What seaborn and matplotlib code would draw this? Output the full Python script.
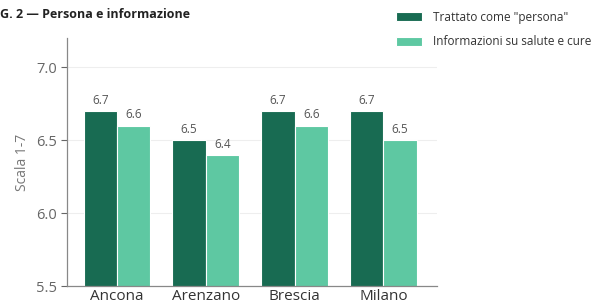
import pandas as pd
import seaborn as sns
import matplotlib.pyplot as plt

citta = ["Ancona", "Arenzano", "Brescia", "Milano"]
persona = [6.7, 6.5, 6.7, 6.7]
informazioni = [6.6, 6.4, 6.6, 6.5]
serie = ['Trattato come "persona"', "Informazioni su salute e cure"]
colori = ["#186b52", "#5ec8a2"]

df = pd.DataFrame({
    "citta": citta * 2,
    "valore": persona + informazioni,
    "serie": [serie[0]] * 4 + [serie[1]] * 4,
})

sns.set_style("white")
plt.rcParams["font.family"] = ["Open Sans", "DejaVu Sans"]

fig = plt.figure(figsize=(6.16, 3.05), dpi=100)
ax = fig.add_axes([0.109, 0.062, 0.600, 0.813])

sns.barplot(data=df, x="citta", y="valore", hue="serie", palette=colori,
            saturation=1, width=0.75, edgecolor="white", linewidth=0.8, ax=ax)

for cont in ax.containers:
    ax.bar_label(cont, fmt="%.1f", padding=3, fontsize=8.5, color="#555555")

ax.set_ylim(5.5, 7.2)
ax.set_xlim(-0.56, 3.6)
ax.set_yticks([5.5, 6.0, 6.5, 7.0])
ax.set_yticklabels(["5.5", "6.0", "6.5", "7.0"])
ax.yaxis.grid(True, color="#eeeeee", linewidth=0.8)
ax.set_axisbelow(True)
ax.set_xlabel("")
ax.set_ylabel("Scala 1-7", fontsize=10, color="#777777")
ax.tick_params(axis="y", labelsize=10.5, colors="#666666", length=4, width=0.8, left=True)
ax.tick_params(axis="x", labelsize=11, colors="#333333", length=0, pad=2)
for s in ["top", "right"]:
    ax.spines[s].set_visible(False)
for s in ["left", "bottom"]:
    ax.spines[s].set_color("#888888")
    ax.spines[s].set_linewidth(0.9)

leg = ax.legend(loc="upper left", bbox_to_anchor=(0.625, 1.0), bbox_transform=fig.transFigure,
                frameon=False, fontsize=8.5, handlelength=2.2, handleheight=0.8,
                labelspacing=1.0, handletextpad=1.0)
for t in leg.get_texts():
    t.set_color("#333333")

fig.text(0.0, 0.975, "G. 2 \u2014 Persona e informazione", fontsize=9,
         fontweight="bold", color="#222222", va="top", ha="left")

fig.savefig("out.png", dpi=100)
